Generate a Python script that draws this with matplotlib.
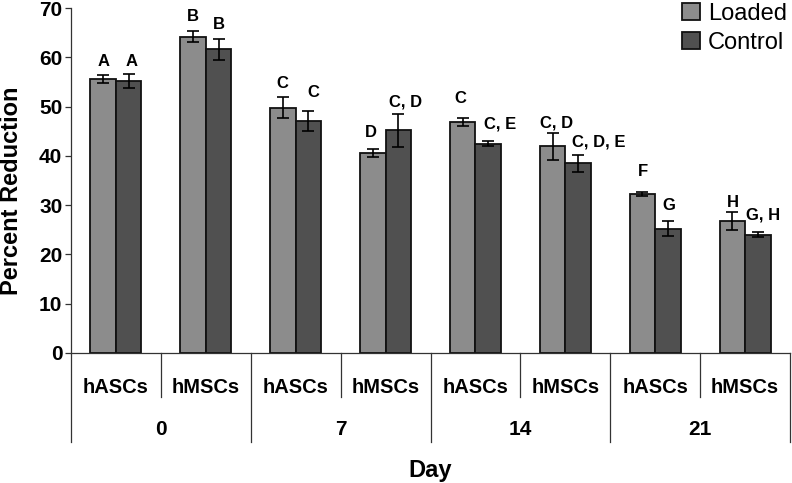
import numpy as np
import matplotlib
matplotlib.use("Agg")
import matplotlib.pyplot as plt

plt.rcParams['font.family'] = ['Liberation Sans', 'DejaVu Sans']

# data
cells = ['hASCs', 'hMSCs', 'hASCs', 'hMSCs', 'hASCs', 'hMSCs', 'hASCs', 'hMSCs']
days = ['0', '7', '14', '21']

loaded = [55.6, 64.2, 49.8, 40.6, 46.9, 41.9, 32.3, 26.8]
loaded_err = [0.85, 1.1, 2.2, 0.8, 0.8, 2.75, 0.35, 1.9]
control = [55.2, 61.6, 47.1, 45.2, 42.5, 38.5, 25.2, 24.0]
control_err = [1.5, 2.2, 2.1, 3.35, 0.45, 1.7, 1.5, 0.47]

loaded_letters = ['A', 'B', 'C', 'D', 'C', 'C, D', 'F', 'H']
control_letters = ['A', 'B', 'C', 'C, D', 'C, E', 'C, D, E', 'G', 'G, H']

# where the letter labels sit (y in data units, x shift in pixels)
loaded_lab_y = [59.1, 68.2, 54.7, 44.7, 51.6, 46.6, 36.8, 30.5]
loaded_lab_dx = [0, 0, -1, -2, -2, 4, 1, 1]
control_lab_y = [59.1, 66.7, 52.8, 50.9, 46.4, 42.9, 30.0, 27.9]
control_lab_dx = [3, 0, 5, 7, 12, 21, 1, 5]

c_loaded = '#8c8c8c'
c_control = '#505050'
axis_col = '#333333'

fig = plt.figure(figsize=(7.92, 4.83), dpi=100)
ax = fig.add_axes([71 / 792, 130 / 483, 719 / 792, 345 / 483])

x = np.arange(len(cells))
w = 0.284
ekw = dict(ecolor='black', elinewidth=1.2, capsize=4, capthick=1.2)
ax.bar(x - w / 2, loaded, w, yerr=loaded_err, color=c_loaded,
       edgecolor='#111111', linewidth=1.3, error_kw=ekw, label='Loaded', zorder=2)
ax.bar(x + w / 2, control, w, yerr=control_err, color=c_control,
       edgecolor='#111111', linewidth=1.3, error_kw=ekw, label='Control', zorder=2)

for i in range(len(cells)):
    ax.annotate(loaded_letters[i], (x[i] - w / 2, loaded_lab_y[i]),
                xytext=(loaded_lab_dx[i] * 0.72, 0), textcoords='offset points',
                ha='center', va='center', fontsize=12, fontweight='bold')
    ax.annotate(control_letters[i], (x[i] + w / 2, control_lab_y[i]),
                xytext=(control_lab_dx[i] * 0.72, 0), textcoords='offset points',
                ha='center', va='center', fontsize=12, fontweight='bold')

ax.set_xlim(-0.5, len(cells) - 0.5)
ax.set_ylim(0, 70)
ax.set_yticks(np.arange(0, 71, 10))
ax.set_xticks([])
for lab in ax.get_yticklabels():
    lab.set_fontweight('bold')
ax.tick_params(axis='y', labelsize=15, length=4.3, width=0.9, pad=2,
               color=axis_col)
ax.spines['top'].set_visible(False)
ax.spines['right'].set_visible(False)
for s in ['left', 'bottom']:
    ax.spines[s].set_color(axis_col)
    ax.spines[s].set_linewidth(0.9)

# two-level category axis below the plot
trans = ax.get_xaxis_transform()
for k in range(len(days)):
    mid = 2 * k + 0.5
    ax.plot([mid, mid], [0, -0.1275], transform=trans, color=axis_col,
            lw=0.9, clip_on=False)
for k in range(len(days) + 1):
    edge = 2 * k - 0.5
    ax.plot([edge, edge], [0, -0.258], transform=trans, color=axis_col,
            lw=0.9, clip_on=False)
for i, name in enumerate(cells):
    ax.text(x[i], -0.0986, name, transform=trans, ha='center', va='center',
            fontsize=14.5, fontweight='bold')
for k, d in enumerate(days):
    ax.text(2 * k + 0.5, -0.223, d, transform=trans, ha='center', va='center',
            fontsize=15, fontweight='bold')

fig.text(430 / 792, 1 - 470 / 483, 'Day', ha='center', va='center',
         fontsize=17, fontweight='bold')
fig.text(11.5 / 792, 1 - 190.5 / 483, 'Percent Reduction', rotation=90,
         ha='center', va='center', fontsize=17, fontweight='bold')

fig.legend(loc='upper left', bbox_to_anchor=(682 / 792, 1 - 3 / 483),
           frameon=False, fontsize=17, handlelength=0.75, handleheight=0.75,
           handletextpad=0.35, labelspacing=0.3, borderpad=0, borderaxespad=0)

fig.savefig('out.png', dpi=100)
